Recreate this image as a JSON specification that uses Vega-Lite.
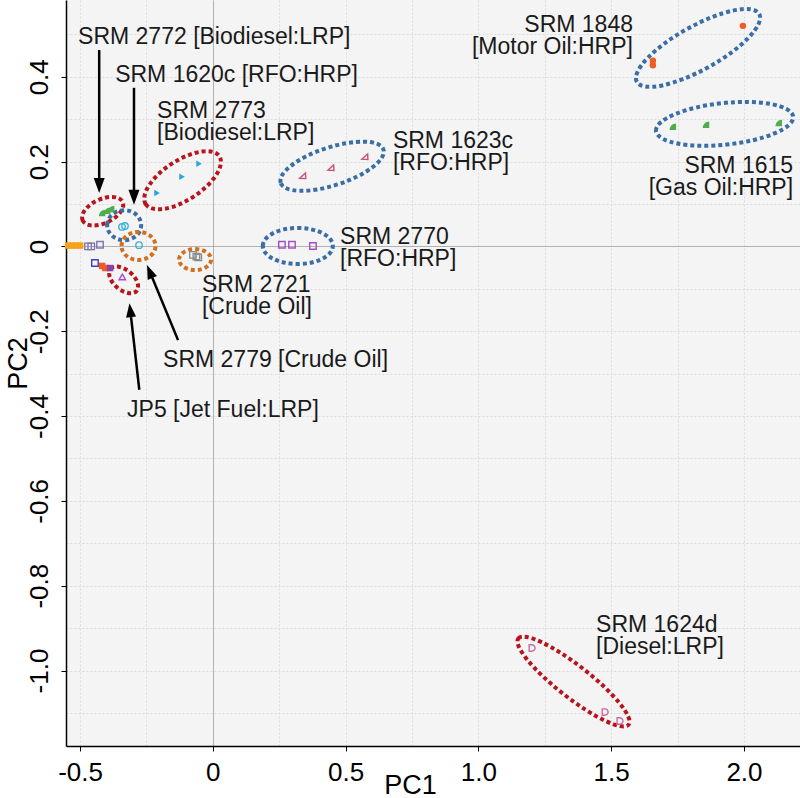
{
  "$schema": "https://vega.github.io/schema/vega-lite/v6.json",
  "width": 734,
  "height": 746,
  "autosize": {"type": "none"},
  "padding": {"left": 66, "top": 0, "right": 0, "bottom": 52},
  "background": "white",
  "config": {"view": {"fill": "#f4f4f4", "stroke": null}},
  "datasets": {
    "pts": [
      {"s": "S1848", "x": 1.657, "y": 0.427}, {"s": "S1848", "x": 1.657, "y": 0.438}, {"s": "S1848", "x": 1.996, "y": 0.52},
      {"s": "S1615", "x": 1.732, "y": 0.282}, {"s": "S1615", "x": 1.857, "y": 0.287}, {"s": "S1615", "x": 2.131, "y": 0.291},
      {"s": "S1623c", "x": 0.339, "y": 0.166}, {"s": "S1623c", "x": 0.445, "y": 0.185}, {"s": "S1623c", "x": 0.573, "y": 0.211},
      {"s": "S2770", "x": 0.26, "y": 0.004}, {"s": "S2770", "x": 0.298, "y": 0.004}, {"s": "S2770", "x": 0.377, "y": 0.001},
      {"s": "S1624d", "x": 1.201, "y": -0.947}, {"s": "S1624d", "x": 1.476, "y": -1.098}, {"s": "S1624d", "x": 1.532, "y": -1.119},
      {"s": "S2773", "x": -0.21, "y": 0.126}, {"s": "S2773", "x": -0.116, "y": 0.164}, {"s": "S2773", "x": -0.052, "y": 0.195},
      {"s": "S2772", "x": -0.417, "y": 0.079}, {"s": "S2772", "x": -0.398, "y": 0.084}, {"s": "S2772", "x": -0.383, "y": 0.088},
      {"s": "S1620c", "x": -0.342, "y": 0.046}, {"s": "S1620c", "x": -0.331, "y": 0.048},
      {"s": "S2779", "x": -0.278, "y": 0.003},
      {"s": "S2721", "x": -0.075, "y": -0.02}, {"s": "S2721", "x": -0.062, "y": -0.024}, {"s": "S2721", "x": -0.055, "y": -0.026},
      {"s": "A", "x": -0.545, "y": 0.002}, {"s": "A", "x": -0.53, "y": 0.002}, {"s": "A", "x": -0.515, "y": 0.002}, {"s": "A", "x": -0.5, "y": 0.002},
      {"s": "B", "x": -0.47, "y": 0.0}, {"s": "B", "x": -0.458, "y": 0.0}, {"s": "B", "x": -0.425, "y": 0.004},
      {"s": "C", "x": -0.444, "y": -0.039},
      {"s": "D", "x": -0.417, "y": -0.046}, {"s": "D", "x": -0.405, "y": -0.051},
      {"s": "E", "x": -0.387, "y": -0.051},
      {"s": "JP5", "x": -0.341, "y": -0.072}
    ],
    "ell": [
      {"id": "E1848", "x": 1.827, "y": 0.468},
      {"id": "E1615", "x": 1.927, "y": 0.289},
      {"id": "E1623c", "x": 0.449, "y": 0.189},
      {"id": "E2770", "x": 0.32, "y": 0.001},
      {"id": "E1624d", "x": 1.358, "y": -1.026},
      {"id": "E2773", "x": -0.114, "y": 0.156},
      {"id": "E2772", "x": -0.415, "y": 0.083},
      {"id": "E1620c", "x": -0.334, "y": 0.05},
      {"id": "E2779", "x": -0.28, "y": 0.001},
      {"id": "E2721", "x": -0.067, "y": -0.031},
      {"id": "EJP5", "x": -0.336, "y": -0.079}
    ],
    "arrows": [
      {"id": "A1", "x": -0.428, "y": 0.463, "x2": -0.428, "y2": 0.159, "tx": -0.428, "ty": 0.126},
      {"id": "A2", "x": -0.297, "y": 0.374, "x2": -0.297, "y2": 0.131, "tx": -0.297, "ty": 0.098},
      {"id": "A3", "x": -0.131, "y": -0.221, "x2": -0.228, "y2": -0.074, "tx": -0.248, "ty": -0.044},
      {"id": "A4", "x": -0.277, "y": -0.338, "x2": -0.308, "y2": -0.167, "tx": -0.314, "ty": -0.134}
    ],
    "labL": [
      {"label": "SRM 2772 [Biodiesel:LRP]", "x": -0.5075, "y": 0.4776},
      {"label": "SRM 1620c [RFO:HRP]", "x": -0.368, "y": 0.388},
      {"label": "SRM 2773\n[Biodiesel:LRP]", "x": -0.21, "y": 0.303},
      {"label": "SRM 1623c\n[RFO:HRP]", "x": 0.678, "y": 0.232},
      {"label": "SRM 2770\n[RFO:HRP]", "x": 0.479, "y": 0.006},
      {"label": "SRM 2721\n[Crude Oil]", "x": -0.041, "y": -0.107},
      {"label": "SRM 2779 [Crude Oil]", "x": -0.1875, "y": -0.284},
      {"label": "JP5 [Jet Fuel:LRP]", "x": -0.323, "y": -0.402},
      {"label": "SRM 1624d\n[Diesel:LRP]", "x": 1.443, "y": -0.909}
    ],
    "labR": [
      {"label": "SRM 1848\n[Motor Oil:HRP]", "x": 1.582, "y": 0.506},
      {"label": "SRM 1615\n[Gas Oil:HRP]", "x": 2.185, "y": 0.173}
    ]
  },
  "resolve": {"scale": {"shape": "independent", "color": "independent", "stroke": "independent"}},
  "layer": [
    {
      "data": {"name": "ell"},
      "mark": {"type": "point", "filled": false, "size": 4, "strokeWidth": 4, "strokeDash": [4, 3], "strokeCap": "butt", "opacity": 1},
      "encoding": {
        "x": {"field": "x", "type": "quantitative", "scale": {"domain": [-0.553, 2.211], "nice": false, "zero": false},
          "axis": {
            "title": "PC1",
            "values": [-0.5, -0.25, 0, 0.25, 0.5, 0.75, 1, 1.25, 1.5, 1.75, 2],
            "labelExpr": "abs(datum.value*2-round(datum.value*2))<0.001 ? (datum.value==0 ? '0' : (datum.value<0 ? '-' : '') + format(abs(datum.value),'.1f')) : ''",
            "labelFont": "Liberation Sans", "labelFontSize": 26, "labelColor": "#000", "labelPadding": 8,
            "labelFlush": false, "labelOverlap": false,
            "tickSize": 5, "tickWidth": 1,
            "tickColor": {"condition": {"test": "abs(datum.value*2-round(datum.value*2))<0.001", "value": "#000"}, "value": "transparent"},
            "domainColor": "#000", "domainWidth": 1.5,
            "grid": true,
            "gridColor": {"condition": {"test": "datum.value===0", "value": "#9a9a9a"}, "value": "#dcdcdc"},
            "gridDash": {"condition": {"test": "datum.value===0", "value": [1, 0]}, "value": [2, 2]},
            "gridWidth": 1,
            "titleFont": "Liberation Sans", "titleFontSize": 27, "titleFontWeight": "normal", "titleColor": "#000",
            "titleX": 344, "titleY": 47, "titleBaseline": "alphabetic"
          }},
        "y": {"field": "y", "type": "quantitative", "scale": {"domain": [-1.178, 0.581], "nice": false, "zero": false},
          "axis": {
            "title": "PC2",
            "values": [-1.1, -1.0, -0.9, -0.8, -0.7, -0.6, -0.5, -0.4, -0.3, -0.2, -0.1, 0, 0.1, 0.2, 0.3, 0.4, 0.5],
            "labelExpr": "abs(datum.value*5-round(datum.value*5))<0.001 ? (datum.value==0 ? '0' : (datum.value<0 ? '-' : '') + format(abs(datum.value),'.1f')) : ''",
            "labelFont": "Liberation Sans", "labelFontSize": 26, "labelColor": "#000", "labelPadding": 14,
            "labelAngle": -90, "labelAlign": "center", "labelBaseline": "alphabetic",
            "labelFlush": false, "labelOverlap": false,
            "tickSize": 5, "tickWidth": 1,
            "tickColor": {"condition": {"test": "abs(datum.value*5-round(datum.value*5))<0.001", "value": "#000"}, "value": "transparent"},
            "domainColor": "#000", "domainWidth": 1.5,
            "grid": true,
            "gridColor": {"condition": {"test": "datum.value===0", "value": "#9a9a9a"}, "value": "#dcdcdc"},
            "gridDash": {"condition": {"test": "datum.value===0", "value": [1, 0]}, "value": [2, 2]},
            "gridWidth": 1,
            "titleFont": "Liberation Sans", "titleFontSize": 27, "titleFontWeight": "normal", "titleColor": "#000",
            "titleAngle": -90, "titleX": -40, "titleY": 363, "titleBaseline": "alphabetic", "titleAlign": "center"
          }},
        "stroke": {"field": "id", "type": "nominal", "legend": null,
          "scale": {"domain": ["E1848", "E1615", "E1623c", "E2770", "E1624d", "E2773", "E2772", "E1620c", "E2779", "E2721", "EJP5"],
            "range": ["#3b6ea5", "#3b6ea5", "#3b6ea5", "#3b6ea5", "#b8141d", "#b8141d", "#b8141d", "#3b6ea5", "#d2701f", "#d2701f", "#b8141d"]}},
        "shape": {"field": "id", "type": "nominal", "legend": null,
          "scale": {"domain": ["E1848", "E1615", "E1623c", "E2770", "E1624d", "E2773", "E2772", "E1620c", "E2779", "E2721", "EJP5"],
            "range": [
              "M -61.22 33.94 A 70 22 -29 0 1 61.22 -33.94 A 70 22 -29 0 1 -61.22 33.94 Z",
              "M -68.62 7.21 A 69 21 -6 0 1 68.62 -7.21 A 69 21 -6 0 1 -68.62 7.21 Z",
              "M -51.36 16.69 A 54 19 -18 0 1 51.36 -16.69 A 54 19 -18 0 1 -51.36 16.69 Z",
              "M -35 0 A 35 18 0 0 1 35 0 A 35 18 0 0 1 -35 0 Z",
              "M -55.16 -43.1 A 70 16 38 0 1 55.16 43.1 A 70 16 38 0 1 -55.16 -43.1 Z",
              "M -36.9 23.96 A 44 20 -33 0 1 36.9 -23.96 A 44 20 -33 0 1 -36.9 23.96 Z",
              "M -19.94 9.3 A 22 12 -25 0 1 19.94 -9.3 A 22 12 -25 0 1 -19.94 9.3 Z",
              "M -17 0 A 17 15 0 0 1 17 0 A 17 15 0 0 1 -17 0 Z",
              "M -17 0 A 17 14 0 0 1 17 0 A 17 14 0 0 1 -17 0 Z",
              "M -16 0 A 16 10.5 0 0 1 16 0 A 16 10.5 0 0 1 -16 0 Z",
              "M -13.02 -10.93 A 17 10 40 0 1 13.02 10.93 A 17 10 40 0 1 -13.02 -10.93 Z"
            ]}}
      }
    },
    {
      "data": {"name": "pts"},
      "transform": [{"filter": {"field": "s", "oneOf": ["S1848", "S1615", "S2773", "S2772", "A", "D", "E"]}}],
      "mark": {"type": "point", "filled": true, "size": 42, "opacity": 1},
      "encoding": {
        "x": {"field": "x", "type": "quantitative"},
        "y": {"field": "y", "type": "quantitative"},
        "color": {"field": "s", "type": "nominal", "legend": null,
          "scale": {"domain": ["S1848", "S1615", "S1623c", "S2770", "S1624d", "S2773", "S2772", "S1620c", "S2779", "S2721", "A", "B", "C", "D", "E", "JP5"],
            "range": ["#f15a24", "#4cae4c", "#c8507c", "#a24fc8", "#c96aa0", "#27a8d8", "#4cae4c", "#3bb3d3", "#3bb3d3", "#8c8c8c", "#f7a21b", "#7f74b0", "#3f3fc8", "#f15a24", "#8e3fa8", "#a64ccc"]}},
        "shape": {"field": "s", "type": "nominal", "legend": null,
          "scale": {"domain": ["S1848", "S1615", "S1623c", "S2770", "S1624d", "S2773", "S2772", "S1620c", "S2779", "S2721", "A", "B", "C", "D", "E", "JP5"],
            "range": ["circle", "M -1 1 A 2 2 0 0 1 1 -1 L 1 1 Z", "M -1 0.7 L 0.8 -0.9 L 0.9 0.8 Z", "square", "M -0.8 -1 L 0 -1 A 1 1 0 0 1 0 1 L -0.8 1 Z", "triangle-right", "M -1 1 A 2 2 0 0 1 1 -1 L 1 1 Z", "circle", "circle", "square", "square", "square", "square", "square", "square", "triangle-up"]}}
      }
    },
    {
      "data": {"name": "pts"},
      "transform": [{"filter": {"field": "s", "oneOf": ["S1623c", "S2770", "S1624d", "S1620c", "S2779", "S2721", "B", "C", "JP5"]}}],
      "mark": {"type": "point", "filled": false, "size": 42, "strokeWidth": 1.4, "opacity": 1},
      "encoding": {
        "x": {"field": "x", "type": "quantitative"},
        "y": {"field": "y", "type": "quantitative"},
        "color": {"field": "s", "type": "nominal", "legend": null,
          "scale": {"domain": ["S1848", "S1615", "S1623c", "S2770", "S1624d", "S2773", "S2772", "S1620c", "S2779", "S2721", "A", "B", "C", "D", "E", "JP5"],
            "range": ["#f15a24", "#4cae4c", "#c8507c", "#a24fc8", "#c96aa0", "#27a8d8", "#4cae4c", "#3bb3d3", "#3bb3d3", "#8c8c8c", "#f7a21b", "#7f74b0", "#3f3fc8", "#f15a24", "#8e3fa8", "#a64ccc"]}},
        "shape": {"field": "s", "type": "nominal", "legend": null,
          "scale": {"domain": ["S1848", "S1615", "S1623c", "S2770", "S1624d", "S2773", "S2772", "S1620c", "S2779", "S2721", "A", "B", "C", "D", "E", "JP5"],
            "range": ["circle", "M -1 1 A 2 2 0 0 1 1 -1 L 1 1 Z", "M -1 0.7 L 0.8 -0.9 L 0.9 0.8 Z", "square", "M -0.8 -1 L 0 -1 A 1 1 0 0 1 0 1 L -0.8 1 Z", "triangle-right", "M -1 1 A 2 2 0 0 1 1 -1 L 1 1 Z", "circle", "circle", "square", "square", "square", "square", "square", "square", "triangle-up"]}}
      }
    },
    {
      "data": {"name": "arrows"},
      "mark": {"type": "rule", "color": "#000", "strokeWidth": 2.5},
      "encoding": {
        "x": {"field": "x", "type": "quantitative"},
        "y": {"field": "y", "type": "quantitative"},
        "x2": {"field": "x2"},
        "y2": {"field": "y2"}
      }
    },
    {
      "data": {"name": "arrows"},
      "mark": {"type": "point", "filled": true, "size": 4, "color": "#000", "opacity": 1},
      "encoding": {
        "x": {"field": "tx", "type": "quantitative"},
        "y": {"field": "ty", "type": "quantitative"},
        "shape": {"field": "id", "type": "nominal", "legend": null,
          "scale": {"domain": ["A1", "A2", "A3", "A4"],
            "range": ["M 0 0 L -5.5 -15 L 5.5 -15 Z", "M 0 0 L -5.5 -15 L 5.5 -15 Z", "M 0 0 L 9.97 11.03 L 0.73 14.85 Z", "M 0 0 L 6.57 13.33 L -3.37 14.47 Z"]}}
      }
    },
    {
      "data": {"name": "labL"},
      "mark": {"type": "text", "align": "left", "baseline": "alphabetic", "font": "Liberation Sans", "fontSize": 23, "lineBreak": "\n", "lineHeight": 22, "color": "#1a1a1a"},
      "encoding": {
        "x": {"field": "x", "type": "quantitative"},
        "y": {"field": "y", "type": "quantitative"},
        "text": {"field": "label"}
      }
    },
    {
      "data": {"name": "labR"},
      "mark": {"type": "text", "align": "right", "baseline": "alphabetic", "font": "Liberation Sans", "fontSize": 23, "lineBreak": "\n", "lineHeight": 22, "color": "#1a1a1a"},
      "encoding": {
        "x": {"field": "x", "type": "quantitative"},
        "y": {"field": "y", "type": "quantitative"},
        "text": {"field": "label"}
      }
    }
  ]
}
